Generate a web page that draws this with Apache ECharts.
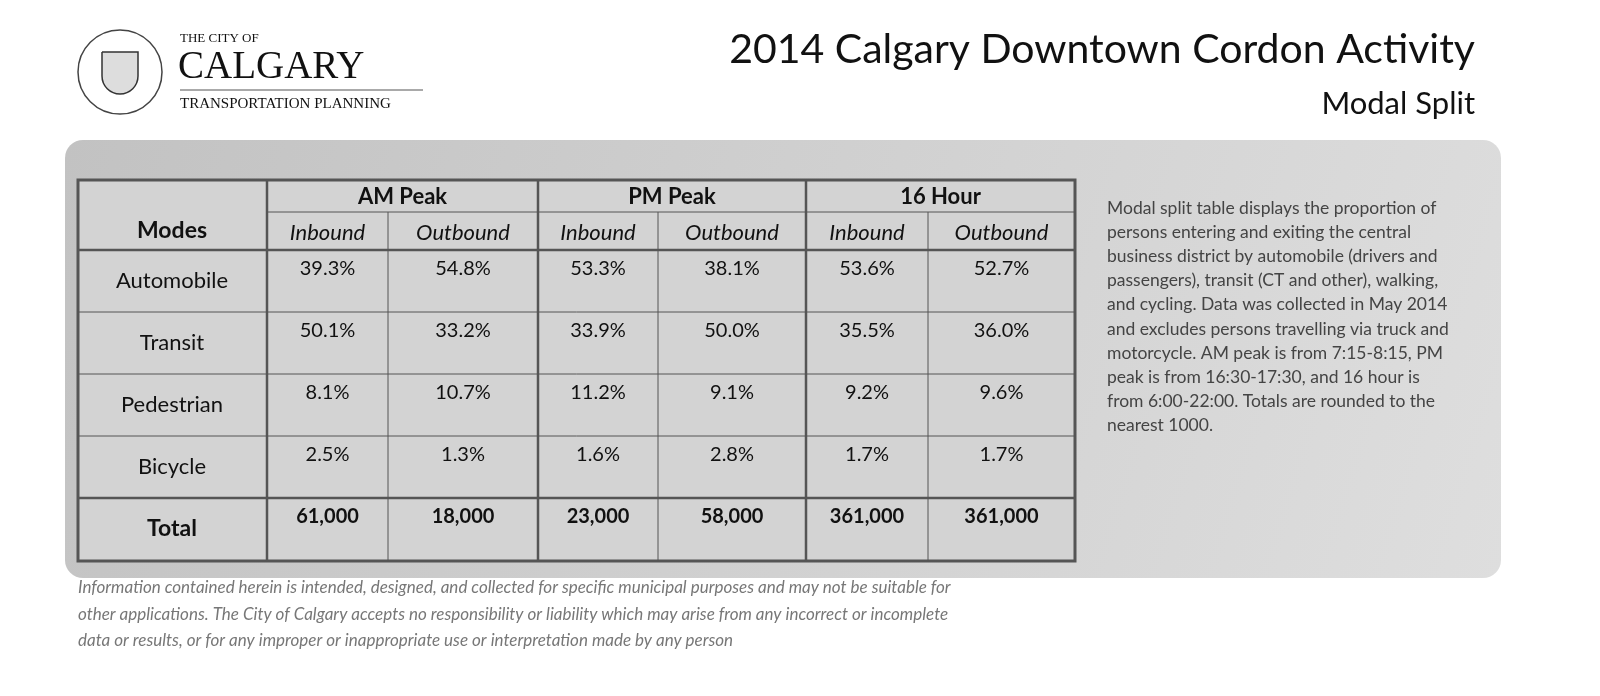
<!DOCTYPE html>
<html><head><meta charset="utf-8">
<script src="https://cdn.jsdelivr.net/npm/echarts@6/dist/echarts.min.js"></script>
<style>html,body{margin:0;background:#fff}#c{width:1600px;height:696px}</style>
</head><body><div id="c"></div>
<script>
const groups = ['AM Peak','PM Peak','16 Hour'];
const directions = ['Inbound','Outbound'];
const modes = ['Automobile','Transit','Pedestrian','Bicycle'];
const automobile = ['39.3%','54.8%','53.3%','38.1%','53.6%','52.7%'];
const transit = ['50.1%','33.2%','33.9%','50.0%','35.5%','36.0%'];
const pedestrian = ['8.1%','10.7%','11.2%','9.1%','9.2%','9.6%'];
const bicycle = ['2.5%','1.3%','1.6%','2.8%','1.7%','1.7%'];
const totals = ['61,000','18,000','23,000','58,000','361,000','361,000'];
const sideText = ['Modal split table displays the proportion of','persons entering and exiting the central','business district by automobile (drivers and','passengers), transit (CT and other), walking,','and cycling. Data was collected in May 2014','and excludes persons travelling via truck and','motorcycle. AM peak is from 7:15-8:15, PM','peak is from 16:30-17:30, and 16 hour is','from 6:00-22:00. Totals are rounded to the','nearest 1000.'];
const footer = ['Information contained herein is intended, designed, and collected for specific municipal purposes and may not be suitable for','other applications. The City of Calgary accepts no responsibility or liability which may arise from any incorrect or incomplete','data or results, or for any improper or inappropriate use or interpretation made by any person'];

const F = 'Lato, "Open Sans", sans-serif';
const colX = [78,267,388,538,658,806,928,1075];
const rowY = [180,212,250,312,374,436,498,561];
const line = '#555';
const els = [];
els.push({type:'rect',shape:{x:65,y:140,width:1436,height:438,r:18},style:{fill:{type:'linear',x:0,y:0,x2:1,y2:1,colorStops:[{offset:0,color:'#c2c2c2'},{offset:1,color:'#dedede'}]}}});
els.push({type:'rect',shape:{x:78,y:180,width:997,height:381},style:{fill:'#d3d3d3',stroke:line,lineWidth:3}});
const L=(x1,y1,x2,y2,w)=>els.push({type:'line',shape:{x1,y1,x2,y2},style:{stroke:line,lineWidth:w||1}});
[267,538,806].forEach(x=>L(x,180,x,561,2.5));
[388,658,928].forEach(x=>L(x,212,x,561,1));
L(267,212,1075,212,1);
L(78,250,1075,250,2.5);
[312,374,436].forEach(y=>L(78,y,1075,y,1));
L(78,498,1075,498,2.5);
const T=(x,y,text,o)=>els.push({type:'text',x,y,style:Object.assign({text,fill:'#111',font:'22px '+F,textAlign:'center',textVerticalAlign:'middle'},o||{})});
groups.forEach((g,i)=>T((colX[1+2*i]+colX[3+2*i])/2,197,g,{font:'bold 22px '+F}));
T(172,231,'Modes',{font:'bold 23px '+F});
for(let i=0;i<6;i++) T((colX[i+1]+colX[i+2])/2,233,directions[i%2],{font:'italic 22px '+F});
const rows=[automobile,transit,pedestrian,bicycle];
modes.forEach((m,r)=>{
  T(172,(rowY[r+2]+rowY[r+3])/2,m);
  rows[r].forEach((v,i)=>T((colX[i+1]+colX[i+2])/2,rowY[r+2]+19,v,{font:'20px '+F}));
});
T(172,529,'Total',{font:'bold 23px '+F});
totals.forEach((v,i)=>T((colX[i+1]+colX[i+2])/2,517,v,{font:'bold 20px '+F}));
sideText.forEach((s,i)=>T(1107,208+i*24.2,s,{font:'17.5px '+F,fill:'#444',textAlign:'left'}));
footer.forEach((s,i)=>T(78,588+i*26.5,s,{font:'italic 17px '+F,fill:'#777',textAlign:'left'}));
T(1475,50,'2014 Calgary Downtown Cordon Activity',{font:'41px '+F,textAlign:'right'});
T(1475,104,'Modal Split',{font:'31px '+F,textAlign:'right'});
T(180,39,'THE CITY OF',{font:'13px "Liberation Serif", serif',textAlign:'left'});
T(178,68,'CALGARY',{font:'39px "Liberation Serif", serif',textAlign:'left'});
L(180,90,423,90,1);
T(180,104,'TRANSPORTATION PLANNING',{font:'15px "Liberation Serif", serif',textAlign:'left'});
els.push({type:'circle',shape:{cx:120,cy:72,r:42},style:{fill:'none',stroke:'#444',lineWidth:1.5}});
els.push({type:'rect',shape:{x:102,y:52,width:36,height:42,r:[0,0,18,18]},style:{fill:'#ddd',stroke:'#333',lineWidth:1.5}});
const chart=echarts.init(document.getElementById('c'));
chart.setOption({animation:false,graphic:{elements:els}});
</script></body></html>
